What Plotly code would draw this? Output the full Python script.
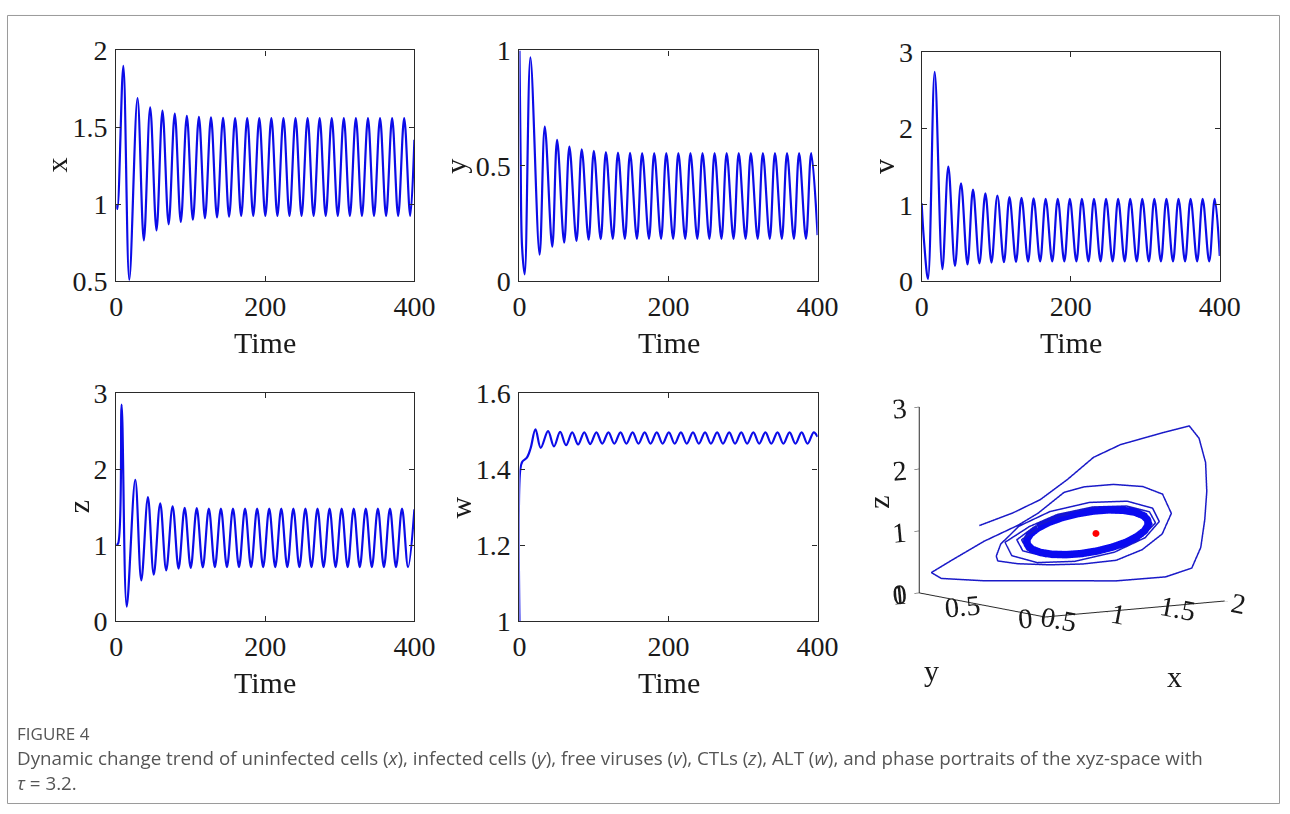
import plotly.graph_objects as go

# Target positions below are given in pixels of the 1290 x 814 reference picture.
# Measured mapping of this renderer: image = offset + scale * figure-pixel
SX, SY = 0.978, 0.963
OX, OY = 7.8, 14.5
FW, FH = 1301, 820


def fx(p):
    return (p - OX) / SX / FW


def fy(p):
    return 1 - (p - OY) / SY / FH


# ---------------- data ----------------
time_ticks = [0, 200, 400]

# uninfected cells x(t): turning points
x_t = [0, 1.5, 9.5, 17.5, 28.5, 37, 45.5, 54, 62, 70.3, 78.5, 86.6, 94.7, 102.8,
       110.9, 119, 127.1, 135.2, 143.3, 151.4,
       159.5, 167.6, 175.7, 183.8, 191.9, 200, 208.1, 216.2, 224.3, 232.4,
       240.5, 248.6, 256.7, 264.8, 272.9, 281, 289.1, 297.2, 305.3, 313.4,
       321.5, 329.6, 337.7, 345.8, 353.9, 362, 370.1, 378.2, 386.3, 394.4, 400]
x_val = [1.00, 0.97, 1.90, 0.51, 1.69, 0.765, 1.63, 0.83, 1.61, 0.87, 1.59, 0.886, 1.575, 0.90,
         1.568, 0.91, 1.565, 0.915, 1.562, 0.92,
         1.56, 0.925, 1.56, 0.925, 1.56, 0.925, 1.56, 0.925, 1.56, 0.925,
         1.56, 0.925, 1.56, 0.925, 1.56, 0.925, 1.56, 0.925, 1.56, 0.925,
         1.56, 0.925, 1.56, 0.925, 1.56, 0.925, 1.56, 0.925, 1.56, 0.925, 1.42]

# infected cells y(t)
y_t = [0, 1.5, 3.5, 7, 14.7, 27, 34, 44, 50.5, 60, 67, 76.5, 83.6, 92.8,
       99.8, 109, 116, 125.2, 132.2, 141.4, 148.4, 157.6, 164.6, 173.8,
       180.8, 190, 197, 206.2, 213.2, 222.4, 229.4, 238.6, 245.6, 254.8,
       261.8, 271, 278, 287.2, 294.2, 303.4, 310.4, 319.6, 326.6, 335.8,
       342.8, 352, 359, 368.2, 375.2, 384.4, 391.4, 400]
y_val = [1.00, 0.55, 0.15, 0.03, 0.97, 0.115, 0.67, 0.15, 0.613, 0.168, 0.584, 0.175, 0.572, 0.18,
         0.565, 0.182, 0.56, 0.184, 0.558, 0.184, 0.556, 0.184, 0.555, 0.184,
         0.555, 0.184, 0.555, 0.184, 0.555, 0.184, 0.555, 0.184, 0.555, 0.184,
         0.555, 0.184, 0.555, 0.184, 0.555, 0.184, 0.555, 0.184, 0.555, 0.184,
         0.555, 0.184, 0.555, 0.184, 0.555, 0.184, 0.555, 0.20]

# free viruses v(t)
v_t = [0, 3, 8.5, 17.5, 27.8, 35.8, 44.7, 52.8, 61.5, 68.9, 77.5, 85.5, 93.7, 101.6,
       110.4, 117.8, 126.6, 134, 142.8, 150.2, 159, 166.4, 175.2, 182.6,
       191.4, 198.8, 207.6, 215, 223.8, 231.2, 240, 247.4, 256.2, 263.6,
       272.4, 279.8, 288.6, 296, 304.8, 312.2, 321, 328.4, 337.2, 344.6,
       353.4, 360.8, 369.6, 377, 385.8, 393.2, 400]
v_val = [1.02, 0.55, 0.03, 2.74, 0.16, 1.50, 0.20, 1.28, 0.22, 1.20, 0.235, 1.15, 0.245, 1.12,
         0.25, 1.10, 0.255, 1.09, 0.258, 1.085, 0.26, 1.08, 0.26, 1.08,
         0.26, 1.08, 0.26, 1.08, 0.26, 1.08, 0.26, 1.08, 0.26, 1.08,
         0.26, 1.08, 0.26, 1.08, 0.26, 1.08, 0.26, 1.08, 0.26, 1.08,
         0.26, 1.08, 0.26, 1.08, 0.26, 1.08, 0.33]

# CTLs z(t)
z_t = [0, 2.5, 7.2, 14, 25.5, 33.6, 42.5, 50.3, 59, 67, 75.6, 83.6, 91.8, 99.9, 108, 116.1,
       124.2, 132.3, 140.4, 148.5, 156.6, 164.7, 172.8, 180.9, 189, 197.1,
       205.2, 213.3, 221.4, 229.5, 237.6, 245.7, 253.8, 261.9, 270, 278.1,
       286.2, 294.3, 302.4, 310.5, 318.6, 326.7, 334.8, 342.9, 351, 359.1,
       367.2, 375.3, 383.4, 391.5, 400]
z_val = [1.00, 1.02, 2.85, 0.19, 1.86, 0.535, 1.63, 0.61, 1.55, 0.667, 1.51, 0.69, 1.49, 0.70, 1.485, 0.705,
         1.48, 0.71, 1.48, 0.71, 1.48, 0.71, 1.48, 0.71, 1.48, 0.71,
         1.48, 0.71, 1.48, 0.71, 1.48, 0.71, 1.48, 0.71, 1.48, 0.71,
         1.48, 0.71, 1.48, 0.71, 1.48, 0.71, 1.48, 0.71, 1.48, 0.71,
         1.48, 0.71, 1.48, 0.71, 1.47]

# ALT w(t)
w_t = [0, 1.2, 4, 10, 15, 21.5, 28.5, 38.4, 46.3, 54.6, 62.5, 70.8, 78.7, 87, 94.9, 103.2, 111.1,
       119.4, 127.3, 135.6, 143.5, 151.8, 159.7, 168, 175.9, 184.2, 192.1,
       200.4, 208.3, 216.6, 224.5, 232.8, 240.7, 249, 256.9, 265.2, 273.1,
       281.4, 289.3, 297.6, 305.5, 313.8, 321.7, 330, 337.9, 346.2, 354.1,
       362.4, 370.3, 378.6, 386.5, 394.8, 400]
w_val = [1.00, 1.40, 1.42, 1.43, 1.455, 1.505, 1.456, 1.500, 1.460, 1.498, 1.463, 1.497, 1.465, 1.497, 1.466, 1.497, 1.467,
         1.497, 1.467, 1.497, 1.467, 1.497, 1.467, 1.497, 1.467, 1.497, 1.467,
         1.497, 1.467, 1.497, 1.467, 1.497, 1.467, 1.497, 1.467, 1.497, 1.467,
         1.497, 1.467, 1.497, 1.467, 1.497, 1.467, 1.497, 1.467, 1.497, 1.467,
         1.497, 1.467, 1.497, 1.467, 1.497, 1.485]

for a, b in [(x_t, x_val), (y_t, y_val), (v_t, v_val), (z_t, z_val), (w_t, w_val)]:
    assert len(a) == len(b), (len(a), len(b))

# phase portrait in xyz-space: transient trajectory
traj_x = [1.000, 1.072, 1.090, 1.128, 1.168, 1.257, 1.537, 1.736, 1.828, 1.893, 1.903, 1.907, 1.905,
          1.870, 1.828, 1.574, 1.256, 0.877, 0.595, 0.528, 0.609, 0.747, 0.852, 0.884, 0.974,
          1.036, 1.240, 1.454, 1.607, 1.691, 1.688, 1.626, 1.536, 1.390, 1.212, 0.973, 0.798,
          0.744, 0.760,
          0.856, 1.008, 1.215, 1.423, 1.574, 1.630, 1.574, 1.423, 1.215, 1.008, 0.856, 0.800,
          0.920, 1.055, 1.240, 1.425, 1.560, 1.610, 1.560, 1.425, 1.240, 1.055, 0.920, 0.870,
          0.942, 1.069, 1.243, 1.416, 1.543, 1.590, 1.543, 1.416, 1.243, 1.069, 0.942, 0.895,
          0.968]
traj_y = [1.000, 0.800, 0.600, 0.420, 0.250, 0.120, 0.050, 0.030, 0.040, 0.050, 0.050, 0.070, 0.100,
          0.138, 0.306, 0.458, 0.684, 0.849, 0.916, 0.931, 0.850, 0.720, 0.550, 0.420, 0.300,
          0.200, 0.160, 0.130, 0.120, 0.130, 0.200, 0.300, 0.420, 0.550, 0.640, 0.670, 0.660,
          0.620, 0.600,
          0.546, 0.445, 0.328, 0.226, 0.168, 0.168, 0.226, 0.328, 0.445, 0.546, 0.604, 0.604,
          0.524, 0.431, 0.325, 0.232, 0.179, 0.179, 0.232, 0.325, 0.431, 0.524, 0.577, 0.577,
          0.513, 0.426, 0.325, 0.237, 0.187, 0.187, 0.237, 0.325, 0.426, 0.513, 0.563, 0.563,
          0.502]
traj_z = [1.000, 1.271, 1.559, 1.948, 2.365, 2.605, 2.777, 2.859, 2.640, 2.233, 1.766, 1.300, 0.841,
          0.500, 0.300, 0.220, 0.190, 0.190, 0.250, 0.350, 0.562, 0.900, 1.206, 1.447, 1.813,
          1.930, 1.950, 1.890, 1.746, 1.417, 1.057, 0.776, 0.574, 0.488, 0.471, 0.518, 0.597,
          0.700, 0.900,
          1.192, 1.441, 1.598, 1.622, 1.506, 1.281, 1.008, 0.759, 0.602, 0.578, 0.694, 0.919,
          1.184, 1.391, 1.522, 1.541, 1.445, 1.259, 1.032, 0.825, 0.695, 0.675, 0.771, 0.958,
          1.171, 1.364, 1.485, 1.504, 1.414, 1.240, 1.029, 0.837, 0.715, 0.696, 0.786, 0.960,
          1.162]

# limit cycle (dense band)
cyc_x = [0.968, 1.018, 1.084, 1.161, 1.243, 1.325, 1.402, 1.468, 1.518, 1.550, 1.561, 1.550, 1.518,
         1.468, 1.402, 1.325, 1.243, 1.161, 1.084, 1.018, 0.968, 0.936, 0.925, 0.936, 0.968]
cyc_y = [0.502, 0.463, 0.418, 0.370, 0.322, 0.277, 0.239, 0.209, 0.190, 0.184, 0.190, 0.209, 0.239,
         0.277, 0.322, 0.370, 0.418, 0.463, 0.502, 0.531, 0.550, 0.556, 0.550, 0.531, 0.502]
cyc_z = [1.162, 1.258, 1.343, 1.410, 1.457, 1.479, 1.474, 1.444, 1.390, 1.316, 1.227, 1.129, 1.028,
         0.932, 0.848, 0.780, 0.733, 0.712, 0.716, 0.746, 0.800, 0.874, 0.963, 1.061, 1.162]

# equilibrium point
eq_x, eq_y, eq_z = [1.25], [0.31], [1.10]

# ---------------- styling ----------------
BLUE = "rgb(12,12,232)"
BLUE3D = "rgb(25,25,200)"
SERIF = "Liberation Serif"
AXC = "#2a2a2a"
TICKFONT = dict(family=SERIF, size=28, color="#1a1a1a")
LABFONT = dict(family=SERIF, size=30, color="#1a1a1a")

panels = [
    dict(t=x_t, v=x_val, box=(117, 415, 50, 281), yr=[0.5, 2], yt=[0.5, 1, 1.5, 2], lab="x", lp=(57, 165), tp=(266, 342)),
    dict(t=y_t, v=y_val, box=(520, 818, 50, 281), yr=[0, 1], yt=[0, 0.5, 1], lab="y", lp=(456, 166), tp=(669, 342)),
    dict(t=v_t, v=v_val, box=(922, 1220, 51.5, 281), yr=[0, 3], yt=[0, 1, 2, 3], lab="v", lp=(884, 166), tp=(1071, 342)),
    dict(t=z_t, v=z_val, box=(117, 415, 393, 621), yr=[0, 3], yt=[0, 1, 2, 3], lab="z", lp=(79, 507), tp=(266, 683)),
    dict(t=w_t, v=w_val, box=(520, 818, 393, 621), yr=[1, 1.6], yt=[1, 1.2, 1.4, 1.6], lab="w", lp=(461, 507), tp=(669, 683)),
]

fig = go.Figure()
annotations = []
layout_axes = {}

for i, p in enumerate(panels):
    n = i + 1
    xa = "x" if n == 1 else f"x{n}"
    ya = "y" if n == 1 else f"y{n}"
    fig.add_trace(go.Scatter(
        x=p["t"], y=p["v"], mode="lines", xaxis=xa, yaxis=ya,
        line=dict(color=BLUE, width=2.2, shape="spline", smoothing=1.0),
        showlegend=False, hoverinfo="skip"))
    l, r, t, b = p["box"]
    common = dict(showline=True, linecolor=AXC, linewidth=1.3, mirror="ticks",
                  ticks="inside", ticklen=5, tickwidth=1.2, tickcolor=AXC,
                  showgrid=False, zeroline=False, tickfont=TICKFONT, fixedrange=True)
    layout_axes["xaxis" if n == 1 else f"xaxis{n}"] = dict(
        domain=[fx(l), fx(r)], range=[0, 400], tickvals=time_ticks, anchor=ya,
        ticklabelstandoff=0, **common)
    layout_axes["yaxis" if n == 1 else f"yaxis{n}"] = dict(
        domain=[fy(b), fy(t)], range=p["yr"], tickvals=p["yt"], anchor=xa,
        ticklabelstandoff=2, **common)
    annotations.append(dict(text=p["lab"], x=fx(p["lp"][0]), y=fy(p["lp"][1]),
                            xref="paper", yref="paper", showarrow=False, textangle=-90,
                            xanchor="center", yanchor="middle", font=LABFONT))
    annotations.append(dict(text="Time", x=fx(p["tp"][0]), y=fy(p["tp"][1]),
                            xref="paper", yref="paper", showarrow=False,
                            xanchor="center", yanchor="middle", font=LABFONT))

# 3-D phase portrait
fig.add_trace(go.Scatter3d(x=traj_x, y=traj_y, z=traj_z, mode="lines",
                           line=dict(color=BLUE3D, width=3), showlegend=False,
                           hoverinfo="skip", scene="scene"))
fig.add_trace(go.Scatter3d(x=cyc_x, y=cyc_y, z=cyc_z, mode="lines",
                           line=dict(color="rgb(10,10,240)", width=15), showlegend=False,
                           hoverinfo="skip", scene="scene"))
fig.add_trace(go.Scatter3d(x=eq_x, y=eq_y, z=eq_z, mode="markers",
                           marker=dict(color="red", size=4), showlegend=False,
                           hoverinfo="skip", scene="scene"))

ax3 = dict(showgrid=False, showbackground=False, zeroline=False, showline=True,
           linecolor=AXC, linewidth=2, ticks="outside", ticklen=6, tickcolor=AXC,
           tickfont=dict(family=SERIF, size=18.5, color="#1a1a1a"), showspikes=False,
           autorange=False, title=dict(text=""))

ex, ey, ez = -0.556, -0.816, 0.13
dist = 1.8
K = 1.25  # overall size of the 3-D box

scene = dict(
    domain=dict(x=[fx(882), fx(1262)], y=[fy(654), fy(354)]),
    xaxis=dict(range=[0.5, 2], tickvals=[0.5, 1, 1.5, 2], **ax3),
    yaxis=dict(range=[0, 1], tickvals=[0, 0.5, 1], **ax3),
    zaxis=dict(range=[0, 3], tickvals=[0, 1, 2, 3], **ax3),
    aspectmode="manual", aspectratio=dict(x=1.16 * K, y=1.19 * K, z=1.0 * K),
    camera=dict(eye=dict(x=ex * dist, y=ey * dist, z=ez * dist),
                up=dict(x=0, y=0, z=1), center=dict(x=0, y=0, z=0),
                projection=dict(type="orthographic")),
    bgcolor="white",
)

# 3-D axis titles (placed as in the reference)
annotations += [
    dict(text="x", x=fx(1175), y=fy(677), xref="paper", yref="paper", showarrow=False,
         xanchor="center", yanchor="middle", font=LABFONT),
    dict(text="y", x=fx(932), y=fy(671), xref="paper", yref="paper", showarrow=False,
         xanchor="center", yanchor="middle", font=LABFONT),
    dict(text="z", x=fx(878), y=fy(502), xref="paper", yref="paper", showarrow=False,
         textangle=-90, xanchor="center", yanchor="middle", font=LABFONT),
]

# caption
CAP = dict(family="Open Sans", color="#555555")
annotations += [
    dict(text="FIGURE 4", x=fx(16), y=fy(734), xref="paper", yref="paper", showarrow=False,
         xanchor="left", yanchor="middle", font=dict(size=17, **CAP)),
    dict(text="Dynamic change trend of uninfected cells (<i>x</i>), infected cells (<i>y</i>), free viruses (<i>v</i>), "
              "CTLs (<i>z</i>), ALT (<i>w</i>), and phase portraits of the xyz-space with",
         x=fx(16), y=fy(758), xref="paper", yref="paper", showarrow=False,
         xanchor="left", yanchor="middle", font=dict(size=18.8, **CAP)),
    dict(text="<i>τ</i> = 3.2.", x=fx(16), y=fy(783), xref="paper", yref="paper", showarrow=False,
         xanchor="left", yanchor="middle", font=dict(size=18.8, **CAP)),
]

fig.update_layout(
    width=FW, height=FH, margin=dict(l=0, r=0, t=0, b=0),
    paper_bgcolor="white", plot_bgcolor="white",
    showlegend=False, hovermode=False,
    annotations=annotations, scene=scene,
    shapes=[dict(type="rect", xref="paper", yref="paper", x0=0.5 / FW, x1=1 - 0.5 / FW,
                 y0=0.5 / FH, y1=1 - 0.5 / FH, line=dict(color="#9a9a9a", width=1))],
    **layout_axes,
)

fig.write_html("out.html", config={"displayModeBar": False})
